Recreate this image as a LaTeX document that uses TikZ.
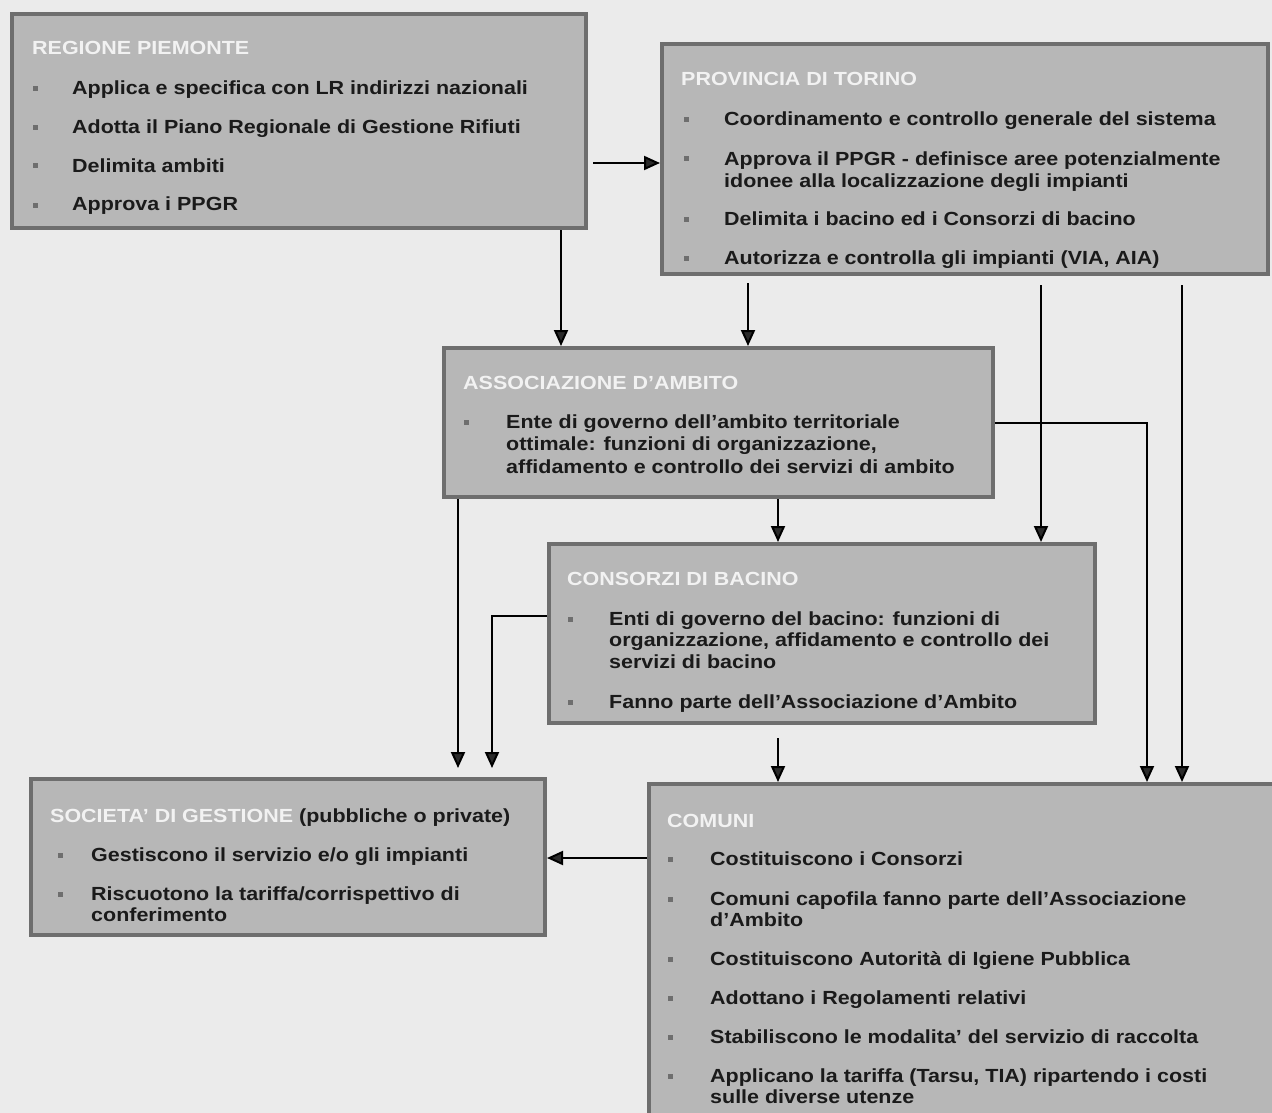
\documentclass[tikz,border=0pt]{standalone}
\usepackage{fontspec}
\setmainfont[FakeStretch=1.13]{Liberation Sans}
\usetikzlibrary{arrows.meta}
\definecolor{bgc}{HTML}{EBEBEB}
\definecolor{boxfill}{HTML}{B7B7B7}
\definecolor{boxline}{HTML}{6E6E6E}
\definecolor{txtc}{HTML}{1A1A1A}
\definecolor{ttlc}{HTML}{F2F2F2}
\definecolor{bulc}{HTML}{6E6E6E}
\definecolor{tipc}{HTML}{2A2A2A}
\begin{document}
\begin{tikzpicture}[x=1pt,y=-1pt,
  box/.style={draw=boxline, fill=boxfill, line width=4pt, rectangle, inner sep=0pt, anchor=north west},
  itm/.style={anchor=base west, inner sep=0pt, text=txtc, font=\fontsize{19}{22}\selectfont\bfseries},
  ttl/.style={itm, text=ttlc},
  bul/.style={fill=bulc, minimum size=5pt, inner sep=0pt, rectangle},
  arr/.style={line width=2pt, draw=black, -{Triangle[length=16pt 0, width=14pt 0, fill=tipc]}},
]
\useasboundingbox (0,0) rectangle (1272,1113);
\fill[bgc] (0,0) rectangle (1272,1113);

% boxes
\node[box, minimum width=574pt, minimum height=214pt] (reg) at (10,12) {};
\node[box, minimum width=606pt, minimum height=230pt] (prov) at (660,42) {};
\node[box, minimum width=549pt, minimum height=149pt] (assoc) at (442,346) {};
\node[box, minimum width=546pt, minimum height=179pt] (cons) at (547,542) {};
\node[box, minimum width=514pt, minimum height=156pt] (soc) at (29,777) {};
\node[box, minimum width=700pt, minimum height=400pt] (com) at (647,782) {};

% Regione Piemonte
\node[ttl] (regt) at (32,55) {REGIONE PIEMONTE};
\node[bul] (rb1) at (35,89) {};
\node[bul] (rb2) at (35,128) {};
\node[bul] (rb3) at (35,166) {};
\node[bul] (rb4) at (35,205) {};
\node[itm] (r1) at (72,95) {Applica e specifica con LR indirizzi nazionali};
\node[itm] (r2) at (72,134) {Adotta il Piano Regionale di Gestione Rifiuti};
\node[itm] (r3) at (72,172) {Delimita ambiti};
\node[itm] (r4) at (72,211) {Approva i PPGR};

% Provincia di Torino
\node[ttl] (provt) at (681,86) {PROVINCIA DI TORINO};
\node[bul] (pb1) at (686,120) {};
\node[bul] (pb2) at (686,159) {};
\node[bul] (pb3) at (686,219) {};
\node[bul] (pb4) at (686,258) {};
\node[itm] (p1) at (724,126) {Coordinamento e controllo generale del sistema};
\node[itm] (p2a) at (724,165) {Approva il PPGR - definisce aree potenzialmente};
\node[itm] (p2b) at (724,187) {idonee alla localizzazione degli impianti};
\node[itm] (p3) at (724,225) {Delimita i bacino ed i Consorzi di bacino};
\node[itm] (p4) at (724,264) {Autorizza e controlla gli impianti (VIA, AIA)};

% Associazione d'Ambito
\node[ttl] (asst) at (463,389) {ASSOCIAZIONE D’AMBITO};
\node[bul] (ab1) at (466,422) {};
\node[itm] (a1) at (506,428) {Ente di governo dell’ambito territoriale};
\node[itm] (a2) at (506,450) {ottimale: funzioni di organizzazione,};
\node[itm] (a3) at (506,473) {affidamento e controllo dei servizi di ambito};

% Consorzi di bacino
\node[ttl] (const) at (567,585) {CONSORZI DI BACINO};
\node[bul] (cb1) at (570,619) {};
\node[bul] (cb2) at (570,702) {};
\node[itm] (c1) at (609,625) {Enti di governo del bacino: funzioni di};
\node[itm] (c2) at (609,646) {organizzazione, affidamento e controllo dei};
\node[itm] (c3) at (609,668) {servizi di bacino};
\node[itm] (c4) at (609,708) {Fanno parte dell’Associazione d’Ambito};

% Societa di gestione
\node[itm] (soct) at (50,822) {\textcolor{ttlc}{SOCIETA’ DI GESTIONE} (pubbliche o private)};
\node[bul] (sb1) at (60,855) {};
\node[bul] (sb2) at (60,894) {};
\node[itm] (s1) at (91,861) {Gestiscono il servizio e/o gli impianti};
\node[itm] (s2a) at (91,900) {Riscuotono la tariffa/corrispettivo di};
\node[itm] (s2b) at (91,921) {conferimento};

% Comuni
\node[ttl] (comt) at (667,827) {COMUNI};
\node[bul] (mb1) at (670,859) {};
\node[bul] (mb2) at (670,899) {};
\node[bul] (mb3) at (670,959) {};
\node[bul] (mb4) at (670,998) {};
\node[bul] (mb5) at (670,1037) {};
\node[bul] (mb6) at (670,1076) {};
\node[itm] (m1) at (710,865) {Costituiscono i Consorzi};
\node[itm] (m2a) at (710,905) {Comuni capofila fanno parte dell’Associazione};
\node[itm] (m2b) at (710,926) {d’Ambito};
\node[itm] (m3) at (710,965) {Costituiscono Autorità di Igiene Pubblica};
\node[itm] (m4) at (710,1004) {Adottano i Regolamenti relativi};
\node[itm] (m5) at (710,1043) {Stabiliscono le modalita' del servizio di raccolta};
\node[itm] (m6a) at (710,1082) {Applicano la tariffa (Tarsu, TIA) ripartendo i costi};
\node[itm] (m6b) at (710,1103) {sulle diverse utenze};

% helper coordinates
\coordinate (x458) at (458,0);
\coordinate (x492) at (492,0);
\coordinate (x561) at (561,0);
\coordinate (x778) at (778,0);
\coordinate (x1147) at (1147,0);
\coordinate (y616) at (0,616);
\coordinate (y858) at (0,858);
\coordinate (s1) at (593,163);
\coordinate (s3) at (748,283);
\coordinate (s4) at (1041,285);
\coordinate (s5) at (1182,285);
\coordinate (s10) at (778,738);

% connectors
\draw[arr] (s1) -- (s1 -| prov.west);
\draw[arr] (reg.south -| x561) -- (assoc.north -| x561);
\draw[arr] (s3) -- (s3 |- assoc.north);
\draw[arr] (s4) -- (s4 |- cons.north);
\draw[arr] (s5) -- (s5 |- com.north);
\draw[arr] (assoc.east) -- (assoc.east -| x1147) -- (x1147 |- com.north);
\draw[arr] (assoc.south -| x778) -- (cons.north -| x778);
\draw[arr, shorten >=9pt] (assoc.south -| x458) -- (soc.north -| x458);
\draw[arr, shorten >=9pt] (cons.west |- y616) -- (x492 |- y616) -- (soc.north -| x492);
\draw[arr] (s10) -- (s10 |- com.north);
\draw[arr] (com.west |- y858) -- (soc.east |- y858);
\end{tikzpicture}
\end{document}
